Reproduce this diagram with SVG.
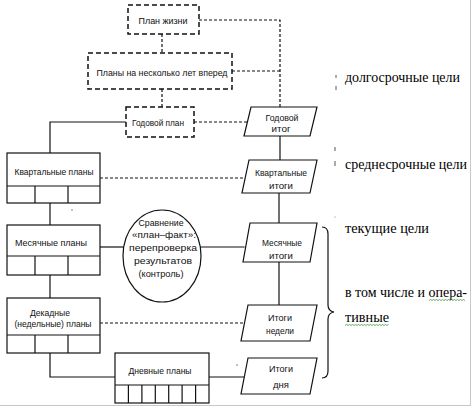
<svg xmlns="http://www.w3.org/2000/svg" width="474" height="409" viewBox="0 0 474 409">
<style>
.bg{fill:#fff}
.db{fill:#fff;stroke:#111;stroke-width:1.5;stroke-dasharray:5,3}
.sb{fill:#fff;stroke:#111;stroke-width:1.2}
.ln{fill:none;stroke:#111;stroke-width:1.2}
.dl{fill:none;stroke:#111;stroke-width:1.2;stroke-dasharray:3,2}
.t{font-family:"Liberation Sans",Arial,sans-serif;font-size:9.5px;fill:#111;text-anchor:middle}
.s{font-family:"Liberation Serif","DejaVu Serif","Times New Roman",serif;font-size:14.5px;fill:#000}
.sq{fill:none;stroke:#3a9a3a;stroke-width:0.8}
.mk{fill:none;stroke:#555;stroke-width:1}
</style>
<rect class="bg" x="0" y="0" width="474" height="409"/>
<line x1="470.5" y1="0" x2="470.5" y2="405" stroke="#c8c8c8" stroke-width="1"/>
<line x1="0" y1="405.5" x2="471" y2="405.5" stroke="#c8c8c8" stroke-width="1"/>

<g id="connectors">
  <line class="dl" x1="162" y1="34" x2="162" y2="53"/>
  <line class="dl" x1="162" y1="89" x2="162" y2="107"/>
  <polyline class="dl" points="199,20 280,20 280,107"/>
  <line class="dl" x1="232" y1="71" x2="280" y2="71"/>
  <line class="dl" x1="194" y1="122" x2="247.4" y2="122"/>
  <line class="dl" x1="100" y1="178" x2="245.2" y2="178"/>
  <line class="dl" x1="100" y1="323" x2="244.5" y2="323"/>
  <polyline class="ln" points="126,122 50,122 50,153"/>
  <line class="ln" x1="50" y1="203" x2="50" y2="225"/>
  <line class="ln" x1="50" y1="275" x2="50" y2="298"/>
  <polyline class="ln" points="50,353 50,377 115,377"/>
  <line class="ln" x1="100" y1="247" x2="123" y2="247"/>
  <line class="ln" x1="201" y1="247" x2="244.7" y2="247"/>
  <line class="ln" x1="209" y1="377" x2="244.3" y2="377"/>
  <line class="ln" x1="280" y1="136" x2="280" y2="160"/>
  <line class="ln" x1="279" y1="193" x2="279" y2="223"/>
  <line class="ln" x1="279" y1="262" x2="279" y2="305"/>
</g>

<g id="plan-zhizni">
  <rect class="db" x="128" y="5" width="71" height="29"/>
  <text class="t" x="163" y="23.5" textLength="49" lengthAdjust="spacingAndGlyphs">План жизни</text>
</g>
<g id="plany-neskolko-let">
  <rect class="db" x="88" y="53" width="144" height="36"/>
  <text class="t" x="162" y="76" textLength="131" lengthAdjust="spacingAndGlyphs">Планы на несколько лет вперед</text>
</g>
<g id="godovoi-plan">
  <rect class="db" x="126" y="107" width="68" height="30"/>
  <text class="t" x="158" y="125.5" textLength="52" lengthAdjust="spacingAndGlyphs">Годовой план</text>
</g>

<g id="kvartalnye-plany">
  <rect class="sb" x="7" y="153" width="93" height="50"/>
  <line class="ln" x1="7" y1="186" x2="100" y2="186"/>
  <line class="ln" x1="35" y1="186" x2="35" y2="203"/>
  <line class="ln" x1="68" y1="186" x2="68" y2="203"/>
  <text class="t" x="54" y="174.5" textLength="79" lengthAdjust="spacingAndGlyphs">Квартальные планы</text>
</g>
<g id="mesyachnye-plany">
  <rect class="sb" x="7" y="225" width="93" height="50"/>
  <line class="ln" x1="7" y1="256" x2="100" y2="256"/>
  <line class="ln" x1="35" y1="256" x2="35" y2="275"/>
  <line class="ln" x1="68" y1="256" x2="68" y2="275"/>
  <text class="t" x="51" y="245.5" textLength="72" lengthAdjust="spacingAndGlyphs">Месячные планы</text>
</g>
<g id="dekadnye-plany">
  <rect class="sb" x="7" y="298" width="93" height="55"/>
  <line class="ln" x1="7" y1="335" x2="100" y2="335"/>
  <line class="ln" x1="35" y1="335" x2="35" y2="353"/>
  <line class="ln" x1="68" y1="335" x2="68" y2="353"/>
  <text class="t" x="50" y="315.5" textLength="40" lengthAdjust="spacingAndGlyphs">Декадные</text>
  <text class="t" x="53" y="327" textLength="77" lengthAdjust="spacingAndGlyphs">(недельные) планы</text>
</g>
<g id="dnevnye-plany">
  <rect class="sb" x="115" y="353" width="94" height="50"/>
  <line class="ln" x1="115" y1="385" x2="209" y2="385"/>
  <line class="ln" x1="128.4" y1="385" x2="128.4" y2="403"/>
  <line class="ln" x1="141.9" y1="385" x2="141.9" y2="403"/>
  <line class="ln" x1="155.3" y1="385" x2="155.3" y2="403"/>
  <line class="ln" x1="168.7" y1="385" x2="168.7" y2="403"/>
  <line class="ln" x1="182.1" y1="385" x2="182.1" y2="403"/>
  <line class="ln" x1="195.6" y1="385" x2="195.6" y2="403"/>
  <text class="t" x="160" y="373.5" textLength="63" lengthAdjust="spacingAndGlyphs">Дневные планы</text>
</g>

<g id="sravnenie">
  <ellipse class="sb" cx="162" cy="256" rx="39" ry="46"/>
  <text class="t" x="161" y="225.5" textLength="45" lengthAdjust="spacingAndGlyphs">Сравнение</text>
  <text class="t" x="164" y="238" textLength="64" lengthAdjust="spacingAndGlyphs">«план–факт»:</text>
  <text class="t" x="163" y="251" textLength="68" lengthAdjust="spacingAndGlyphs">перепроверка</text>
  <text class="t" x="163" y="264" textLength="58" lengthAdjust="spacingAndGlyphs">результатов</text>
  <text class="t" x="161" y="277" textLength="45" lengthAdjust="spacingAndGlyphs">(контроль)</text>
</g>

<g id="godovoi-itog">
  <polygon class="sb" points="251,107 317,107 310,136 244,136"/>
  <text class="t" x="282" y="121" textLength="33" lengthAdjust="spacingAndGlyphs">Годовой</text>
  <text class="t" x="281" y="132" textLength="19" lengthAdjust="spacingAndGlyphs">итог</text>
</g>
<g id="kvartalnye-itogi">
  <polygon class="sb" points="249,160 317,160 310,193 242,193"/>
  <text class="t" x="281" y="176" textLength="52" lengthAdjust="spacingAndGlyphs">Квартальные</text>
  <text class="t" x="281" y="189" textLength="24" lengthAdjust="spacingAndGlyphs">итоги</text>
</g>
<g id="mesyachnye-itogi">
  <polygon class="sb" points="250,223 317,223 310,262 243,262"/>
  <text class="t" x="282" y="246" textLength="40" lengthAdjust="spacingAndGlyphs">Месячные</text>
  <text class="t" x="281" y="259" textLength="24" lengthAdjust="spacingAndGlyphs">итоги</text>
</g>
<g id="itogi-nedeli">
  <polygon class="sb" points="248,305 317,305 310,341 241,341"/>
  <text class="t" x="280" y="321" textLength="24" lengthAdjust="spacingAndGlyphs">Итоги</text>
  <text class="t" x="280" y="334" textLength="28" lengthAdjust="spacingAndGlyphs">недели</text>
</g>
<g id="itogi-dnya">
  <polygon class="sb" points="248,358 317,358 310,394 241,394"/>
  <text class="t" x="281" y="372" textLength="24" lengthAdjust="spacingAndGlyphs">Итоги</text>
  <text class="t" x="281" y="388" textLength="16" lengthAdjust="spacingAndGlyphs">дня</text>
</g>

<g id="brace">
  <path class="ln" d="M322,227 Q328,227 328,234 L328,305 Q328,311 334,312 Q328,313 328,319 L328,371 Q328,378 322,378"/>
</g>

<g id="marks">
  <line class="mk" x1="336" y1="75" x2="336" y2="78"/>
  <line class="mk" x1="336" y1="86" x2="336" y2="90"/>
  <line class="mk" x1="335" y1="147" x2="335" y2="151"/>
  <line class="mk" x1="335" y1="161" x2="335" y2="166"/>
  <circle cx="335" cy="217" r="0.6" fill="#777"/>
  <circle cx="72" cy="210" r="0.7" fill="#555"/>
  <circle cx="237" cy="365" r="0.7" fill="#555"/>
</g>

<g id="labels" font-family="Liberation Serif, serif">
  <text class="s" x="345" y="82" textLength="115" lengthAdjust="spacingAndGlyphs">долгосрочные цели</text>
  <text class="s" x="345" y="169" textLength="122" lengthAdjust="spacingAndGlyphs">среднесрочные цели</text>
  <text class="s" x="345" y="233" textLength="84" lengthAdjust="spacingAndGlyphs">текущие цели</text>
  <text class="s" x="345" y="297" textLength="122" lengthAdjust="spacingAndGlyphs">в том числе и опера-</text>
  <text class="s" x="345" y="322" textLength="44" lengthAdjust="spacingAndGlyphs">тивные</text>
  <path class="sq" d="M429,300.5 l1.5,-1 l1.5,1 l1.5,-1 l1.5,1 l1.5,-1 l1.5,1 l1.5,-1 l1.5,1 l1.5,-1 l1.5,1 l1.5,-1 l1.5,1 l1.5,-1 l1.5,1 l1.5,-1 l1.5,1 l1.5,-1 l1.5,1 l1.5,-1 l1.5,1 l1.5,-1 l1.5,1 l1.5,-1 l1.5,1"/>
  <path class="sq" d="M345,325.5 l1.5,-1 l1.5,1 l1.5,-1 l1.5,1 l1.5,-1 l1.5,1 l1.5,-1 l1.5,1 l1.5,-1 l1.5,1 l1.5,-1 l1.5,1 l1.5,-1 l1.5,1 l1.5,-1 l1.5,1 l1.5,-1 l1.5,1 l1.5,-1 l1.5,1 l1.5,-1 l1.5,1 l1.5,-1 l1.5,1 l1.5,-1 l1.5,1 l1.5,-1 l1.5,1 l1.5,-1"/>
</g>
</svg>
